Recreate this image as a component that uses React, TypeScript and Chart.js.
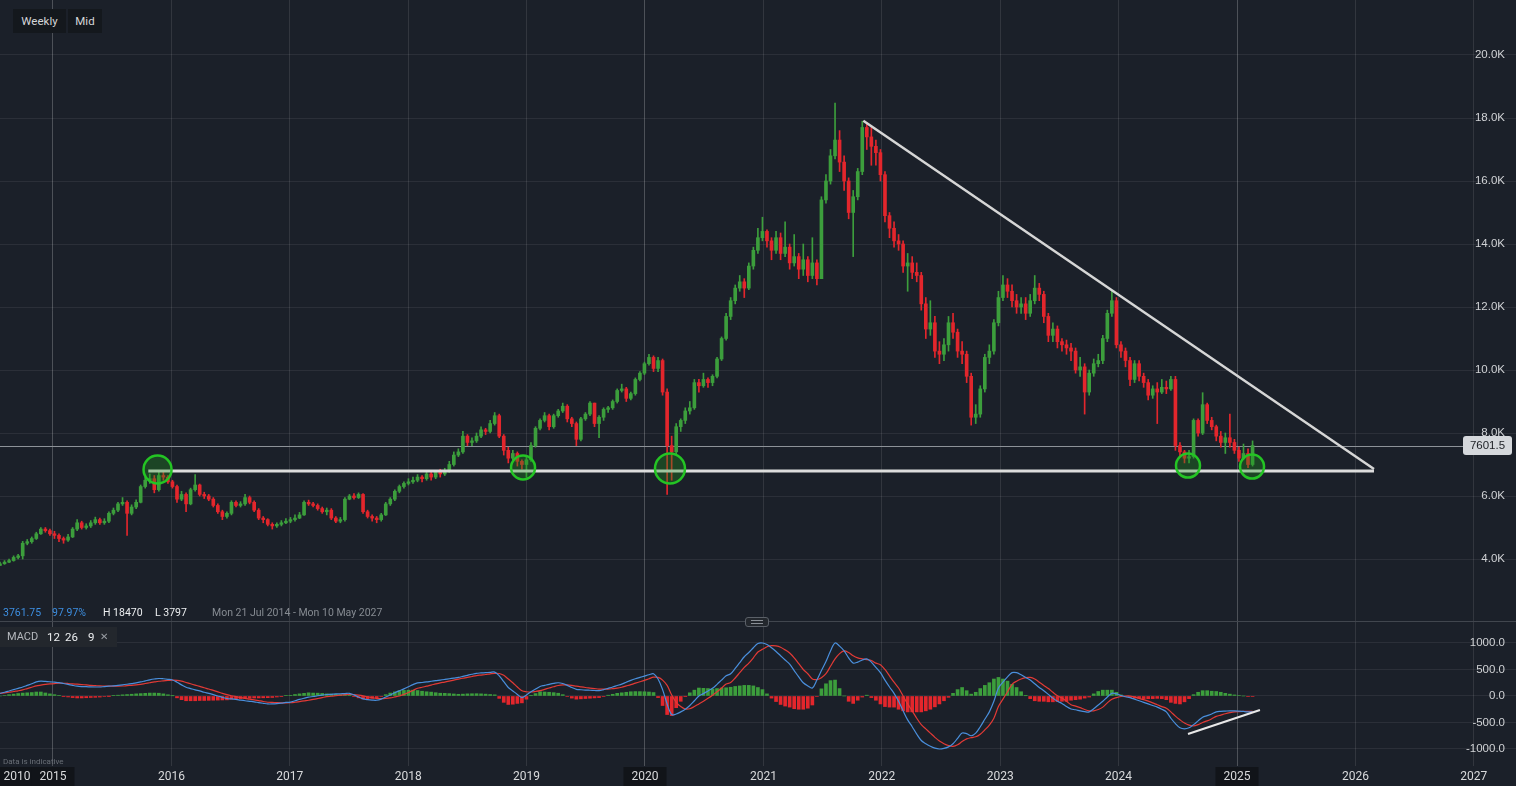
import React, { useEffect, useRef } from 'react';
import { Chart, registerables } from 'chart.js';

Chart.register(...registerables);

// ---------- DATA ----------
const START_YEAR = 2014.5524; // Mon 21 Jul 2014
const STEP_YEARS = 14 / 365.25; // two-week candles
const FIRST_OPEN = 3800;
const LAST_PRICE = 7601.5;

const closes = [
  3850, 3900, 3950, 4050, 4100, 4500, 4550, 4650, 4800, 4950,
  4900, 4800, 4750, 4650, 4600, 4700, 4950, 5150, 5000, 5050,
  5150, 5250, 5150, 5200, 5450, 5550, 5750, 5800, 5450, 5650,
  5800, 6300, 6500, 6550, 6200, 6650, 6600, 6450, 6300, 5900,
  6050, 5750, 6200, 6350, 6050, 6000, 5900, 5700, 5500, 5350,
  5450, 5800, 5700, 5750, 5950, 5800, 5550, 5300, 5250, 5100,
  5050, 5100, 5150, 5200, 5250, 5300, 5400, 5800, 5750, 5700,
  5600, 5500, 5550, 5300, 5200, 5250, 5900, 6000, 5950, 6050,
  5500, 5350, 5300, 5250, 5400, 5750, 5900, 6150, 6300, 6400,
  6450, 6500, 6600, 6550, 6700, 6600, 6750, 6700, 6800, 7000,
  7300, 7400, 7900, 7700, 7750, 7900, 8100, 8050, 8300, 8550,
  7900, 7450, 7200, 7350, 7100, 7000, 7150, 7600, 8150, 8400,
  8550, 8200, 8550, 8700, 8850, 8450, 8300, 7800, 8450, 8600,
  8950, 8300, 8500, 8750, 8800, 9000, 9350, 9400, 9100, 9250,
  9700, 9900, 10200, 10400, 10050, 10300, 9300, 7600, 7400, 8200,
  8400, 8700, 8800, 9600, 9500, 9700, 9600, 9800, 10350, 11000,
  11700, 12200, 12600, 12800, 12600, 13300, 13800, 14200, 14400, 14100,
  13800, 14200, 13700, 13900, 13400, 13600, 13200, 13500, 13000, 13400,
  12900, 15400, 16000, 16800, 17300, 16600, 16000, 15000, 15500, 16300,
  17700, 17400, 17100, 16900, 16200, 14900, 14500, 14100, 14000, 13300,
  13400, 13100, 13000, 12100, 11300, 11500, 10600, 10500, 10800, 11500,
  11200, 10600, 10500, 9800, 8500, 8600, 9400, 10400, 10600, 11500,
  12300, 12700, 12500, 12200, 12000, 12100, 11800, 12200, 12600, 12400,
  11700, 11100, 11300, 10900, 10800, 10700, 10600, 10000, 10100, 9300,
  9900, 10200, 10300, 11000, 11800, 12200, 10800, 10600, 10300, 9700,
  10200, 9800, 9600, 9200, 9400, 9300, 9450, 9400, 9700, 7600,
  7400, 7200, 7250, 8400, 8000, 8900, 8400, 8200, 7900, 7700,
  7850, 7700, 7450, 7200, 7350, 7000, 7601.5,
];

const highs = [
  3900, 3950, 4000, 4100, 4150, 4560, 4620, 4700, 4850, 5000,
  5000, 4950, 4880, 4800, 4700, 4780, 5000, 5250, 5200, 5120,
  5220, 5330, 5300, 5280, 5500, 5620, 5800, 5950, 5850, 5720,
  5880, 6350, 6600, 6700, 6650, 6750, 6800, 6650, 6500, 6350,
  6150, 6100, 6250, 6680, 6380, 6120, 6050, 5950, 5750, 5550,
  5500, 5850, 5850, 5820, 6050, 6000, 5850, 5600, 5350, 5280,
  5150, 5150, 5220, 5280, 5320, 5400, 5480, 5850, 5870, 5800,
  5750, 5650, 5620, 5600, 5350, 5320, 5950, 6050, 6080, 6100,
  6080, 5550, 5400, 5350, 5450, 5800, 5950, 6200, 6350, 6450,
  6550, 6600, 6680, 6650, 6750, 6750, 6800, 6850, 6880, 7100,
  7400, 7500, 8050, 7950, 7850, 8000, 8200, 8150, 8400, 8650,
  8600, 7950, 7550, 7450, 7400, 7150, 7250, 7700, 8200, 8450,
  8650, 8600, 8600, 8750, 8950, 8900, 8500, 8350, 8500, 8650,
  9000, 8950, 8550, 8800, 8850, 9050, 9400, 9550, 9450, 9300,
  9750, 9950, 10250, 10500, 10450, 10400, 10350, 9400, 7900, 8300,
  8450, 8800, 9000, 9700, 9700, 9900, 9750, 9850, 10400, 11050,
  11800, 12300, 12700, 13000, 12900, 13400, 13900, 14500, 14850, 14450,
  14200, 14400, 14350, 14700, 14000, 14300, 13700, 14000, 13600, 14200,
  13500, 15500, 16200, 17000, 18470, 17600, 16800, 16100, 15700, 16400,
  17900, 17850, 17700, 17300, 17000, 16300, 15000, 14700, 14300, 14100,
  13700, 13600, 13400, 13100, 12300, 12200, 11700, 10900, 11000, 11700,
  11800, 11300, 10900, 10600, 9900, 8900, 9500, 10500, 10800, 11600,
  12500, 13000, 12900, 12700, 12400, 12300, 12300, 12400, 13000, 12750,
  12500, 11800, 11500, 11400, 11000, 10950, 10850, 10700, 10400, 10200,
  10000, 10350, 10500, 11100, 11900, 12500, 12300, 10900, 10700, 10400,
  10300, 10300, 9900, 9700, 9500, 9600, 9700, 9650, 9800, 9800,
  7700, 7450, 7450, 8450, 8450, 9280, 8950, 8500, 8250, 8050,
  8000, 8600, 7800, 7550, 7650, 7500, 7750,
];

const lows = [
  3797, 3830, 3880, 3930, 4000, 4000, 4450, 4500, 4620, 4780,
  4850, 4750, 4650, 4550, 4500, 4560, 4680, 4900, 4950, 4950,
  5000, 5100, 5100, 5100, 5150, 5400, 5500, 5700, 4750, 5400,
  5600, 5780, 6250, 6400, 6100, 6150, 6500, 6400, 6250, 5800,
  5850, 5500, 5720, 6150, 6000, 5920, 5850, 5650, 5450, 5250,
  5300, 5400, 5650, 5650, 5700, 5750, 5500, 5250, 5150, 5050,
  4950, 5000, 5050, 5120, 5150, 5200, 5280, 5380, 5700, 5650,
  5550, 5450, 5400, 5250, 5150, 5150, 5200, 5880, 5900, 5920,
  5450, 5300, 5200, 5150, 5200, 5380, 5700, 5850, 6100, 6250,
  6350, 6400, 6450, 6450, 6500, 6500, 6550, 6600, 6650, 6750,
  6950, 7250, 7350, 7600, 7600, 7700, 7850, 7950, 8000, 8250,
  7850, 7300, 7050, 7150, 6950, 6850, 6600, 7100, 7550, 8100,
  8350, 8100, 8150, 8500, 8650, 8350, 8200, 7600, 7750, 8400,
  8550, 8200, 7850, 8400, 8650, 8750, 8950, 9300, 9000, 9050,
  9200, 9650, 9850, 10150, 9950, 9950, 9200, 6050, 6500, 7300,
  8050, 8300, 8600, 8750, 9300, 9450, 9450, 9500, 9750, 10300,
  10950, 11600, 12100, 12500, 12300, 12550, 13200, 13700, 14100, 13900,
  13500, 13700, 13500, 13600, 13200, 13300, 12900, 13000, 12800, 12900,
  12700, 12900, 15300, 15900, 16700, 16300, 15700, 14800, 13600, 15400,
  16200, 17000, 16500, 16500, 16000, 14700, 14200, 13900, 13800, 13100,
  12500, 12900, 12800, 11900, 11000, 11100, 10400, 10200, 10300, 10600,
  11000, 10400, 10200, 9600, 8250, 8300, 8500, 9300, 10200, 10500,
  11400, 12200, 12300, 12000, 11800, 11800, 11600, 11700, 12100, 12200,
  11500, 10900, 10900, 10700, 10600, 10500, 10300, 9900, 9800, 8600,
  9200, 9800, 10100, 10200, 10900, 11700, 10700, 10400, 10100, 9500,
  9600, 9650, 9450, 9050, 9100, 8300, 9250, 9250, 9350, 7450,
  7250, 7050, 7050, 7200, 7900, 7950, 8300, 8100, 7750, 7550,
  7350, 7550, 7350, 7100, 7150, 6900, 6950,
];

const macdValues = [
  50, 70, 95, 120, 145, 170, 200, 230, 265, 280,
  275, 268, 260, 252, 235, 218, 200, 185, 178, 175,
  172, 170, 170, 178, 185, 192, 200, 210, 222, 235,
  248, 265, 285, 305, 320, 330, 325, 315, 302, 260,
  210, 165, 140, 115, 95, 70, 50, 25, 0, -25,
  -48, -55, -65, -78, -90, -100, -110, -125, -138, -150,
  -150, -145, -135, -122, -115, -90, -65, -42, -20, -10,
  5, 18, 28, 32, 38, 42, 46, 50, 20, -20,
  -55, -70, -78, -80, -60, -20, 20, 60, 98, 135,
  175, 215, 248, 255, 265, 278, 290, 300, 312, 325,
  338, 350, 370, 390, 410, 428, 435, 440, 446, 450,
  380, 270, 160, 95, 30, -30, 20, 80, 130, 180,
  200, 220, 238, 250, 235, 200, 160, 125, 118, 112,
  108, 104, 100, 120, 145, 170, 198, 225, 260, 295,
  325, 350, 375, 400, 420, 320, 120, -150, -350, -340,
  -300, -250, -180, -90, 0, 45, 95, 145, 220, 300,
  380, 420, 520, 630, 740, 820, 910, 990, 1000, 970,
  910, 840, 760, 680, 600, 480, 360, 250, 190, 150,
  300, 480, 650, 850, 1000, 940, 850, 720, 620, 640,
  680, 700, 640, 540, 440, 300, 170, 50, -100, -280,
  -450, -580, -720, -840, -900, -950, -985, -1000, -990, -960,
  -900, -800, -700, -710, -750, -700, -580, -440, -300, -100,
  150, 260, 360, 440, 440, 400, 350, 300, 230, 160,
  100, 30, -40, -100, -140, -200, -245, -260, -280, -295,
  -300, -240, -170, -100, -20, 50, 40, 10, -15, -30,
  -60, -90, -120, -150, -180, -210, -250, -300, -420, -520,
  -600, -620, -600, -540, -470, -400, -370, -340, -300, -290,
  -285, -280, -280, -285, -292, -298, -300,
];

const signalValues = [
  50, 60, 70, 85, 98, 115, 140, 165, 190, 205,
  218, 228, 235, 240, 240, 236, 230, 222, 215, 208,
  200, 195, 190, 188, 186, 185, 185, 188, 195, 202,
  208, 220, 235, 250, 265, 278, 285, 292, 298, 295,
  280, 255, 230, 205, 180, 155, 132, 105, 78, 50,
  25, 5, -12, -28, -45, -58, -72, -88, -104, -118,
  -122, -126, -129, -130, -128, -118, -105, -92, -80, -65,
  -48, -30, -12, -5, 5, 15, 24, 30, 25, 15,
  2, -15, -32, -48, -50, -45, -35, -18, 0, 30,
  65, 105, 145, 165, 185, 205, 228, 248, 262, 280,
  300, 318, 335, 350, 368, 385, 395, 405, 418, 428,
  425, 390, 320, 250, 170, 100, 80, 75, 85, 100,
  125, 150, 175, 198, 210, 210, 200, 185, 172, 160,
  150, 140, 130, 128, 130, 138, 148, 165, 190, 215,
  242, 268, 295, 325, 355, 350, 300, 200, 20, -120,
  -200, -245, -240, -200, -150, -100, -45, 15, 80, 150,
  225, 255, 340, 440, 540, 620, 720, 830, 880, 930,
  950, 945, 920, 870, 810, 720, 610, 500, 420, 320,
  310, 345, 420, 560, 700, 800, 850, 820, 760, 720,
  700, 685, 670, 620, 590, 500, 380, 260, 150, 0,
  -150, -280, -420, -540, -620, -700, -780, -850, -900, -935,
  -950, -920, -860, -810, -785, -770, -720, -640, -550, -420,
  -200, -60, 80, 220, 280, 320, 345, 350, 320, 260,
  200, 140, 70, 5, -40, -100, -165, -190, -220, -255,
  -280, -280, -255, -210, -130, -60, -30, -10, 0, 0,
  -20, -45, -70, -98, -130, -165, -200, -230, -300, -380,
  -450, -510, -550, -565, -540, -500, -470, -430, -385, -360,
  -335, -315, -300, -295, -292, -290, -290,
];

// drawn annotations (dates in decimal years, prices)
const supportYears = [2015.805, 2026.157];
const supportValues = [6790, 6790];
const trendYears = [2021.844, 2026.157];
const trendValues = [17914, 6857];
const circleYears = [2015.883, 2018.970, 2020.211, 2024.586, 2025.127];
const circleValues = [6841, 6905, 6873, 6968, 6936];
const macdTrendYears = [2024.586, 2025.194];
const macdTrendValues = [-717, -264];

// axes
const X_MIN = 2014.5524; // Mon 21 Jul 2014
const X_MAX = 2027.3564; // Mon 10 May 2027
const yearTicks = [2014.696, 2015, 2016, 2017, 2018, 2019, 2020, 2021, 2022, 2023, 2024, 2025, 2026, 2027];
const yearTickLabels = ['2010', '2015', '2016', '2017', '2018', '2019', '2020', '2021', '2022', '2023', '2024', '2025', '2026', '2027'];
const highlightedLabels = ['2010', '2015', '2020', '2025'];
const priceTicks = [4000, 6000, 8000, 10000, 12000, 14000, 16000, 18000, 20000];
const PRICE_MIN = 2032;
const PRICE_MAX = 21746;
const macdTicks = [-1000, -500, 0, 500, 1000];
const MACD_MIN = -1321;
const MACD_MAX = 1396;

// ---------- STYLE ----------
const BG = '#1b2029';
const GREEN = '#3c9e3c';
const RED = '#e3262c';
const BLUE_LINE = '#4a8fdc';
const RED_LINE = '#e23a36';
const H_GRID = 'rgba(255,255,255,0.07)';
const V_GRID = 'rgba(255,255,255,0.10)';
const V_GRID_HI = 'rgba(255,255,255,0.22)';
const AXIS_FONT = { family: 'Liberation Sans, Arial, sans-serif', size: 11.5 };
const LABEL_INSET = -11;
const circleRadii = [14, 12, 15, 12, 12];

const dates = closes.map((_, i) => START_YEAR + i * STEP_YEARS);
const opens = closes.map((_, i) => (i === 0 ? FIRST_OPEN : closes[i - 1]));
const candleColors = closes.map((c, i) => (c >= opens[i] ? GREEN : RED));
const histValues = macdValues.map((m, i) => m - signalValues[i]);
const histColors = histValues.map((h) => (h >= 0 ? GREEN : RED));

const verticalGridColor = (ctx: any) => {
  const lbl = yearTickLabels[ctx.index];
  if (lbl === '2010') return 'rgba(0,0,0,0)';
  if (highlightedLabels.includes(lbl)) return V_GRID_HI;
  return V_GRID;
};

const setYearTicks = (s: any) => {
  s.ticks = yearTicks.map((v) => ({ value: v }));
};

const noPadding = (s: any) => {
  s.paddingTop = 0;
  s.paddingBottom = 0;
  s.paddingLeft = 0;
  s.paddingRight = 0;
};

function topConfig(): any {
  const pricePlugin = {
    id: 'priceLine',
    beforeDatasetsDraw(chart: any) {
      const { ctx, scales } = chart;
      const y = Math.round(scales.y.getPixelForValue(LAST_PRICE)) + 0.5;
      ctx.save();
      ctx.strokeStyle = '#8d9298';
      ctx.lineWidth = 1;
      ctx.beginPath();
      ctx.moveTo(0, y);
      ctx.lineTo(chart.width - 52, y);
      ctx.stroke();
      ctx.restore();
    },
    afterDraw(chart: any) {
      const { ctx, scales } = chart;
      const y = scales.y.getPixelForValue(LAST_PRICE);
      const left = chart.width - 53;
      const w = 49;
      const h = 19;
      ctx.save();
      ctx.fillStyle = '#d5d8dc';
      ctx.beginPath();
      (ctx as any).roundRect(left, y - h / 2, w, h, 3);
      ctx.fill();
      ctx.fillStyle = '#1c1f24';
      ctx.font = '11.5px "Liberation Sans", Arial, sans-serif';
      ctx.textAlign = 'center';
      ctx.textBaseline = 'middle';
      ctx.fillText(LAST_PRICE.toFixed(1), left + w / 2, y + 0.5);
      ctx.restore();
    },
  };

  return {
    type: 'bar',
    data: {
      datasets: [
        {
          type: 'line',
          data: circleYears.map((x, i) => ({ x, y: circleValues[i] })),
          showLine: false,
          pointRadius: circleRadii,
          pointHoverRadius: circleRadii,
          pointBackgroundColor: 'rgba(30,150,30,0.32)',
          pointBorderColor: '#24c424',
          pointBorderWidth: 2.5,
          order: 0,
        },
        {
          type: 'line',
          data: supportYears.map((x, i) => ({ x, y: supportValues[i] })),
          borderColor: '#dcdcdc',
          borderWidth: 3,
          pointRadius: 0,
          order: 1,
        },
        {
          type: 'line',
          data: trendYears.map((x, i) => ({ x, y: trendValues[i] })),
          borderColor: '#d6d6d6',
          borderWidth: 2.5,
          pointRadius: 0,
          order: 1,
        },
        {
          type: 'bar',
          data: dates.map((x, i) => ({ x, y: [opens[i], closes[i]] })),
          backgroundColor: candleColors,
          barThickness: 3,
          minBarLength: 1,
          grouped: false,
          order: 2,
        },
        {
          type: 'bar',
          data: dates.map((x, i) => ({ x, y: [lows[i], highs[i]] })),
          backgroundColor: candleColors,
          barThickness: 1,
          grouped: false,
          order: 3,
        },
      ],
    },
    options: {
      animation: false,
      responsive: true,
      maintainAspectRatio: false,
      events: [],
      layout: { autoPadding: false, padding: 0 },
      plugins: { legend: { display: false }, tooltip: { enabled: false } },
      scales: {
        x: {
          type: 'linear',
          min: X_MIN,
          max: X_MAX,
          offset: false,
          grid: { offset: false, color: verticalGridColor, drawTicks: false },
          border: { display: false },
          ticks: { display: false },
          afterBuildTicks: setYearTicks,
          afterFit: (s: any) => {
            s.height = 0;
            noPadding(s);
          },
        },
        y: {
          type: 'linear',
          position: 'right',
          min: PRICE_MIN,
          max: PRICE_MAX,
          grid: { color: H_GRID, drawTicks: false },
          border: { display: false },
          ticks: {
            mirror: true,
            crossAlign: 'near',
            padding: LABEL_INSET,
            color: '#d0d2d5',
            font: AXIS_FONT,
            callback: (v: number) => (v / 1000).toFixed(1) + 'K',
          },
          afterBuildTicks: (s: any) => {
            s.ticks = priceTicks.map((v) => ({ value: v }));
          },
          afterFit: (s: any) => {
            s.width = 0;
            noPadding(s);
          },
        },
      },
    },
    plugins: [pricePlugin],
  };
}

function bottomConfig(): any {
  return {
    type: 'bar',
    data: {
      datasets: [
        {
          type: 'line',
          data: macdTrendYears.map((x, i) => ({ x, y: macdTrendValues[i] })),
          borderColor: '#e8e8e8',
          borderWidth: 2,
          pointRadius: 0,
          order: 0,
        },
        {
          type: 'line',
          data: dates.map((x, i) => ({ x, y: macdValues[i] })),
          borderColor: BLUE_LINE,
          borderWidth: 1.2,
          pointRadius: 0,
          tension: 0.35,
          order: 1,
        },
        {
          type: 'line',
          data: dates.map((x, i) => ({ x, y: signalValues[i] })),
          borderColor: RED_LINE,
          borderWidth: 1.2,
          pointRadius: 0,
          tension: 0.35,
          order: 1,
        },
        {
          type: 'bar',
          data: dates.map((x, i) => ({ x, y: histValues[i] })),
          backgroundColor: histColors,
          barThickness: 3,
          grouped: false,
          order: 2,
        },
      ],
    },
    options: {
      animation: false,
      responsive: true,
      maintainAspectRatio: false,
      events: [],
      layout: { autoPadding: false, padding: { left: 0, top: 1, bottom: 0, right: 0 } },
      plugins: { legend: { display: false }, tooltip: { enabled: false } },
      scales: {
        x: {
          type: 'linear',
          min: X_MIN,
          max: X_MAX,
          offset: false,
          grid: { offset: false, color: verticalGridColor, drawTicks: false },
          border: { display: false },
          ticks: {
            autoSkip: false,
            maxRotation: 0,
            padding: 4,
            color: '#d9dadc',
            font: { family: 'Roboto, sans-serif', size: 12 },
            callback: (_v: number, idx: number) => yearTickLabels[idx],
            showLabelBackdrop: (ctx: any) => highlightedLabels.includes(yearTickLabels[ctx.index]),
            backdropColor: '#111419',
            backdropPadding: { x: 8, y: 3 },
          },
          afterBuildTicks: setYearTicks,
          afterFit: (s: any) => {
            s.height = 20;
            noPadding(s);
          },
        },
        y: {
          type: 'linear',
          position: 'right',
          min: MACD_MIN,
          max: MACD_MAX,
          grid: { color: H_GRID, drawTicks: false },
          border: { display: false },
          ticks: {
            mirror: true,
            crossAlign: 'near',
            padding: LABEL_INSET,
            color: '#d0d2d5',
            font: AXIS_FONT,
            callback: (v: number) => v.toFixed(1),
          },
          afterBuildTicks: (s: any) => {
            s.ticks = macdTicks.map((v) => ({ value: v }));
          },
          afterFit: (s: any) => {
            s.width = 0;
            noPadding(s);
          },
        },
      },
    },
  };
}

const abs = (s: React.CSSProperties): React.CSSProperties => ({ position: 'absolute', whiteSpace: 'nowrap', ...s });

export default function App() {
  const topRef = useRef<HTMLCanvasElement>(null);
  const botRef = useRef<HTMLCanvasElement>(null);

  useEffect(() => {
    const top = new Chart(topRef.current as HTMLCanvasElement, topConfig());
    const bot = new Chart(botRef.current as HTMLCanvasElement, bottomConfig());
    return () => {
      top.destroy();
      bot.destroy();
    };
  }, []);

  const infoFont: React.CSSProperties = { fontFamily: 'Roboto, sans-serif', fontSize: 10.5, lineHeight: '13px', top: 606 };

  return (
    <div
      style={{
        position: 'fixed',
        left: 0,
        top: 0,
        width: 1516,
        height: 786,
        background: BG,
        overflow: 'hidden',
        fontFamily: 'Roboto, sans-serif',
      }}
    >
      <div style={abs({ left: 0, top: 0, width: 1516, height: 621 })}>
        <canvas ref={topRef} />
      </div>
      <div style={abs({ left: 0, top: 621, width: 1516, height: 165 })}>
        <canvas ref={botRef} />
      </div>

      {/* interval buttons */}
      <div
        style={abs({
          left: 13,
          top: 9,
          width: 53,
          height: 24,
          background: '#14181d',
          color: '#d4d6d9',
          fontSize: 11.5,
          lineHeight: '24px',
          textAlign: 'center',
        })}
      >
        Weekly
      </div>
      <div
        style={abs({
          left: 68,
          top: 9,
          width: 34,
          height: 24,
          background: '#14181d',
          color: '#d4d6d9',
          fontSize: 11.5,
          lineHeight: '24px',
          textAlign: 'center',
        })}
      >
        Mid
      </div>

      {/* info row */}
      <div style={abs({ ...infoFont, left: 3, color: '#3d8ee0' })}>3761.75</div>
      <div style={abs({ ...infoFont, left: 52, color: '#3d8ee0' })}>97.97%</div>
      <div style={abs({ ...infoFont, left: 103, color: '#eceef0' })}>H 18470</div>
      <div style={abs({ ...infoFont, left: 155, color: '#eceef0' })}>L 3797</div>
      <div style={abs({ ...infoFont, left: 212, color: '#868b92' })}>Mon 21 Jul 2014 - Mon 10 May 2027</div>

      {/* pane separator */}
      <div style={abs({ left: 0, top: 621, width: 1516, height: 1, background: '#41464e' })} />
      <div
        style={abs({
          left: 745,
          top: 617,
          width: 22,
          height: 8,
          background: '#23272d',
          border: '1px solid #5b6068',
          borderRadius: 3,
        })}
      >
        <div style={abs({ left: 5, top: 2, width: 12, height: 1, background: '#8a8f96' })} />
        <div style={abs({ left: 5, top: 5, width: 12, height: 1, background: '#8a8f96' })} />
      </div>

      {/* MACD legend */}
      <div style={abs({ left: 0, top: 627, width: 117, height: 20, background: '#23272d' })}>
        <span style={abs({ left: 7, top: 0, lineHeight: '20px', fontSize: 11, color: '#b4b7bc' })}>MACD</span>
        <span style={abs({ left: 47, top: 0, lineHeight: '20px', fontSize: 11.5, color: '#eceef0' })}>12</span>
        <span style={abs({ left: 65, top: 0, lineHeight: '20px', fontSize: 11.5, color: '#eceef0' })}>26</span>
        <span style={abs({ left: 88, top: 0, lineHeight: '20px', fontSize: 11.5, color: '#eceef0' })}>9</span>
        <span style={abs({ left: 100, top: 0, lineHeight: '20px', fontSize: 10, color: '#9a9ea4', fontFamily: 'DejaVu Sans, sans-serif' })}>✕</span>
      </div>

      <div style={abs({ left: 3, top: 757, fontSize: 8, lineHeight: '10px', color: '#6a6f77' })}>Data is indicative</div>
    </div>
  );
}
